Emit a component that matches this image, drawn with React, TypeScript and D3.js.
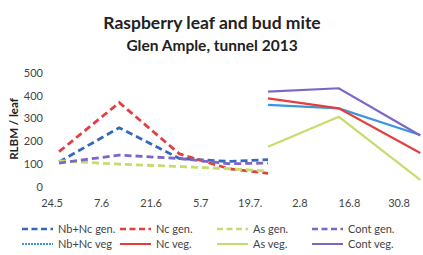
import * as d3 from "d3";

// sampling dates and mite counts
const genDates = ["2013-05-26", "2013-06-12", "2013-06-29", "2013-07-13", "2013-07-24"];
const vegDates = ["2013-07-24", "2013-08-13", "2013-09-05"];

const nbNcGen = [110, 260, 125, 112, 120];
const ncGen = [155, 370, 145, 80, 60];
const asGen = [115, 100, 90, 80, 70];
const contGen = [105, 140, 125, 102, 105];

const nbNcVeg = [360, 345, 228];
const ncVeg = [389, 345, 149];
const asVeg = [177, 308, 31];
const contVeg = [418, 433, 226];

const tickDates = ["2013-05-24", "2013-06-07", "2013-06-21", "2013-07-05", "2013-07-19", "2013-08-02", "2013-08-16", "2013-08-30"];
const tickLabels = ["24.5", "7.6", "21.6", "5.7", "19.7.", "2.8", "16.8", "30.8"];
const yTicks = [0, 100, 200, 300, 400, 500];

const colors = {
  blueGen: "#3569bd",
  blueVeg: "#3b97dc",
  red: "#e2403f",
  green: "#c6dc6c",
  purple: "#7d66c6",
};

const parse = d3.timeParse("%Y-%m-%d");

const series = [
  { name: "Nb+Nc gen.", dates: genDates, values: nbNcGen, color: colors.blueGen, dash: "7 4" },
  { name: "Nc gen.", dates: genDates, values: ncGen, color: colors.red, dash: "7 4" },
  { name: "As gen.", dates: genDates, values: asGen, color: colors.green, dash: "7 4" },
  { name: "Cont gen.", dates: genDates, values: contGen, color: colors.purple, dash: "7 4" },
  { name: "Nb+Nc veg", dates: vegDates, values: nbNcVeg, color: colors.blueVeg, dash: null },
  { name: "Nc veg.", dates: vegDates, values: ncVeg, color: colors.red, dash: null },
  { name: "As veg.", dates: vegDates, values: asVeg, color: colors.green, dash: null },
  { name: "Cont veg.", dates: vegDates, values: contVeg, color: colors.purple, dash: null },
];

export default function App() {
  const width = 423;
  const height = 255;
  const font = "Lato, 'Open Sans', sans-serif";

  const x = d3
    .scaleTime()
    .domain([parse(tickDates[0])!, parse(tickDates[tickDates.length - 1])!])
    .range([52, 399]);
  const y = d3.scaleLinear().domain([0, 500]).range([187, 73]);

  const line = d3
    .line<[Date, number]>()
    .x((d) => x(d[0]))
    .y((d) => y(d[1]));

  // legend: 4 columns, 2 rows (gen on top, veg below)
  const legendX = [22, 120, 217, 312];
  const legendY = [229, 244];

  return (
    <svg
      width={width}
      height={height}
      style={{ position: "fixed", left: 0, top: 0, background: "#fff", fontFamily: font }}
    >
      <text x={212} y={29} textAnchor="middle" fontSize={17.5} fontWeight="bold" fill="#222">
        Raspberry leaf and bud mite
      </text>
      <text x={212} y={51} textAnchor="middle" fontSize={15.5} fontWeight="bold" fill="#222">
        Glen Ample, tunnel 2013
      </text>

      <text
        transform={`translate(18,129) rotate(-90)`}
        textAnchor="middle"
        fontSize={11.5}
        fontWeight="bold"
        fill="#222"
      >
        RLBM / leaf
      </text>

      {yTicks.map((t) => (
        <text key={t} x={43} y={y(t)} dy="0.35em" textAnchor="end" fontSize={11} fill="#444">
          {t}
        </text>
      ))}

      {tickDates.map((d, i) => (
        <text key={d} x={x(parse(d)!)} y={207} textAnchor="middle" fontSize={11} fill="#444">
          {tickLabels[i]}
        </text>
      ))}

      {series.map((s) => (
        <path
          key={s.name}
          d={line(s.dates.map((d, i) => [parse(d)!, s.values[i]]))!}
          fill="none"
          stroke={s.color}
          strokeWidth={s.dash ? 2.8 : 2.2}
          strokeDasharray={s.dash ?? undefined}
        />
      ))}

      {series.map((s, i) => {
        const lx = legendX[i % 4];
        const ly = legendY[Math.floor(i / 4)];
        return (
          <g key={"lg" + s.name}>
            <line
              x1={lx}
              x2={lx + 31}
              y1={ly}
              y2={ly}
              stroke={s.color}
              strokeWidth={s.dash ? 2.6 : 2}
              strokeDasharray={s.dash ? "6 3.5" : i === 4 ? "2 1" : undefined}
            />
            <text x={lx + 36} y={ly} dy="0.35em" fontSize={11} fill="#444">
              {s.name}
            </text>
          </g>
        );
      })}
    </svg>
  );
}
